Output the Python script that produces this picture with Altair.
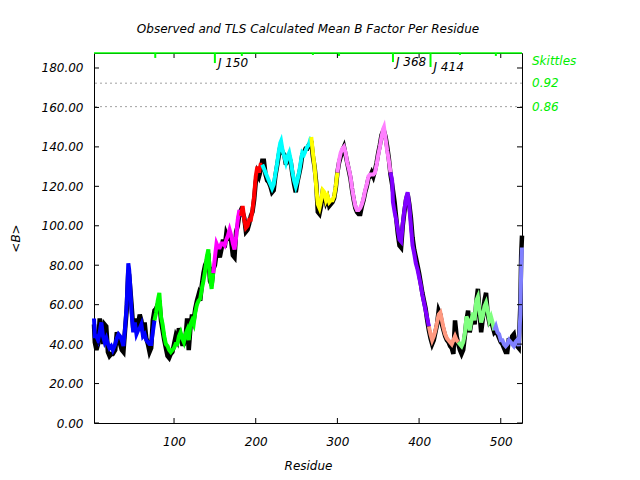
import altair as alt
import pandas as pd

# ---------------- data ----------------
residues = [
    2, 3, 5, 7, 9, 11, 13, 15, 17, 19,
    21, 23, 25, 28, 30, 32, 34, 36, 38, 40,
    42, 44, 45, 46, 48, 50, 52, 54, 56, 58,
    60, 62, 64, 66, 68, 70, 72, 74, 76, 78,
    80, 82, 84, 86, 88, 90, 92, 94, 96, 98,
    100, 102, 104, 106, 108, 110, 112, 114, 116, 118,
    120, 122, 124, 126, 128, 130, 132, 134, 136, 138,
    140, 142, 144, 146, 148, 150, 152, 154, 156, 158,
    160, 162, 164, 166, 168, 170, 172, 174, 176, 178,
    180, 182, 184, 186, 188, 190, 192, 194, 196, 198,
    200, 202, 204, 206, 208, 210, 212, 214, 216, 218,
    220, 222, 224, 226, 228, 230, 231, 233, 235, 237,
    239, 241, 243, 245, 247, 249, 251, 253, 255, 257,
    259, 261, 263, 265, 267, 268, 270, 272, 274, 276,
    278, 280, 282, 284, 286, 288, 290, 292, 294, 296,
    298, 300, 302, 304, 306, 308, 310, 312, 314, 316,
    318, 320, 322, 324, 326, 328, 330, 332, 334, 336,
    338, 340, 342, 344, 346, 348, 350, 352, 354, 356,
    357, 359, 361, 363, 365, 367, 368, 370, 372, 374,
    376, 378, 380, 382, 384, 386, 388, 390, 392, 394,
    396, 398, 400, 402, 404, 406, 408, 410, 412, 414,
    416, 418, 420, 422, 424, 426, 428, 430, 432, 434,
    436, 438, 440, 442, 444, 446, 448, 450, 452, 454,
    456, 458, 460, 462, 464, 466, 468, 470, 472, 474,
    476, 478, 480, 482, 484, 486, 488, 490, 492, 494,
    496, 498, 500, 502, 504, 506, 508, 510, 512, 514,
    516, 518, 520, 522, 524, 525, 526,
]

tls_calc = [
    53, 44, 44, 42, 46, 51, 44, 41, 43, 40,
    38, 39, 37, 40, 43, 45, 44, 42, 39, 48,
    60, 81, 78, 72, 56, 46, 51, 45, 47, 48,
    50, 44, 45, 42, 41, 40, 40, 46, 52, 56,
    62, 66, 54, 50, 44, 40, 39, 37, 36, 37,
    38, 40, 40, 44, 46, 43, 41, 45, 47, 42,
    50, 52, 50, 56, 60, 62, 63, 68, 72, 77,
    84, 88, 74, 68, 76, 84, 91, 89, 89, 91,
    91, 90, 93, 95, 98, 95, 91, 88, 94, 103,
    108, 105, 110, 103, 99, 100, 103, 103, 108, 115,
    125, 130, 127, 131, 131, 129, 127, 125, 123, 121,
    119, 121, 126, 131, 137, 142, 143, 138, 135, 132,
    135, 137, 133, 127, 123, 120, 123, 127, 132, 137,
    136, 138, 140, 141, 144, 145, 137, 130, 120, 111,
    109, 113, 118, 117, 113, 115, 112, 113, 113, 115,
    120, 127, 133, 137, 139, 140, 137, 132, 129, 125,
    119, 114, 110, 108, 108, 109, 111, 114, 118, 121,
    125, 126, 126, 126, 127, 131, 136, 140, 145, 149,
    150, 144, 138, 133, 127, 123, 112, 107, 103, 98,
    93, 92, 101, 108, 114, 117, 110, 100, 90, 86,
    81, 78, 74, 70, 65, 61, 57, 53, 49, 45,
    42, 44, 47, 51, 55, 56, 52, 48, 45, 43,
    42, 41, 40, 42, 44, 42, 41, 40, 39, 41,
    45, 54, 52, 47, 52, 56, 52, 62, 64, 57,
    51, 54, 59, 61, 57, 52, 54, 51, 47, 49,
    46, 45, 42, 42, 40, 39, 40, 42, 41, 40,
    39, 41, 42, 39, 55, 78, 89,
]

observed = [
    50, 41, 37, 40, 53, 47, 40, 50, 49, 36,
    34, 35, 35, 37, 46, 42, 40, 37, 36, 47,
    57, 77, 75, 70, 60, 48, 53, 47, 50, 55,
    52, 46, 51, 43, 40, 36, 38, 52, 57, 58,
    60, 62, 52, 47, 42, 38, 34, 33, 35, 36,
    40, 44, 42, 48, 44, 40, 40, 43, 53, 37,
    48, 55, 52, 58, 62, 65, 62, 70, 76, 80,
    82, 86, 72, 70, 78, 80, 86, 87, 84, 88,
    93, 89, 96, 94, 95, 92, 85, 84, 97, 100,
    106, 108, 107, 104, 97, 98, 101, 105, 107, 113,
    122, 127, 125, 128, 133, 133, 126, 123, 122, 120,
    117, 118, 125, 130, 135, 140, 140, 137, 136, 131,
    134, 135, 132, 126, 121, 117, 122, 126, 130, 136,
    137, 139, 139, 141, 142, 143, 135, 130, 122, 107,
    106, 110, 117, 116, 112, 114, 110, 111, 112, 114,
    119, 127, 132, 135, 138, 140, 136, 132, 128, 124,
    118, 113, 109, 107, 106, 106, 110, 113, 117, 120,
    124, 125, 127, 125, 128, 132, 137, 141, 146, 148,
    148, 145, 140, 134, 126, 121, 118, 112, 104, 96,
    90, 89, 100, 107, 113, 116, 111, 104, 94, 88,
    84, 80, 76, 71, 66, 62, 58, 52, 47, 43,
    40, 42, 46, 50, 57, 55, 50, 47, 44, 42,
    41, 39, 38, 35, 52, 44, 40, 37, 35, 37,
    44, 52, 57, 46, 51, 55, 50, 61, 68, 56,
    46, 53, 62, 66, 55, 51, 52, 49, 46, 47,
    45, 43, 41, 40, 38, 36, 36, 43, 40, 44,
    45, 40, 39, 38, 60, 85, 95,
]

group_starts = [2, 77, 150, 183, 210, 270, 302, 367, 414, 450, 494]
group_colors = ["#0000ff", "#00ff00", "#ff00ff", "#ff0000", "#00ffff", "#ffff00",
                "#ff80ff", "#8000ff", "#ff9980", "#80ff80", "#8080ff"]

skittle_res = [77, 150, 183, 270, 302, 368, 414, 450, 494]
skittle_len = [2.5, 5.1, 1.5, 1.0, 1.5, 4.6, 7.1, 1.0, 1.5]
skittle_labels = ["", "J 150", "", "", "", "J 368", "J 414", "", ""]

right_texts = ["Skittles", "0.92", "0.86"]
right_values = [183.6, 172.3, 160.4]
dotted_values = [172.3, 160.4]

y_ticks = [0, 20, 40, 60, 80, 100, 120, 140, 160, 180]
x_ticks = [100, 200, 300, 400, 500]

X_MIN, X_MAX = 2, 526
Y_MAX = 187.6
W, H = 428, 370
FONT = "DejaVu Sans"

# ---------------- tables ----------------
obs_df = pd.DataFrame({"r": residues, "v": observed})

rows = []
prev_last = None
for gi, start in enumerate(group_starts):
    end = group_starts[gi + 1] if gi + 1 < len(group_starts) else 10 ** 6
    pts = [(r, v) for r, v in zip(residues, tls_calc) if start <= r < end]
    if prev_last is not None:
        pts = [prev_last] + pts
    for r, v in pts:
        rows.append({"r": r, "v": v, "g": f"G{gi:02d}"})
    if pts:
        prev_last = pts[-1]
calc_df = pd.DataFrame(rows)
group_names = [f"G{i:02d}" for i in range(len(group_starts))]

sk_df = pd.DataFrame({
    "r": skittle_res,
    "v": [Y_MAX] * len(skittle_res),
    "v2": [Y_MAX - l for l in skittle_len],
    "label": skittle_labels,
})
right_df = pd.DataFrame({"t": right_texts, "v": right_values})
dot_df = pd.DataFrame({"v": dotted_values})
top_df = pd.DataFrame({"v": [Y_MAX]})
yt_df = pd.DataFrame({"v": y_ticks})
xt_df = pd.DataFrame({"r": x_ticks})

# ---------------- scales / axes ----------------
xs = alt.Scale(domain=[X_MIN, X_MAX], nice=False, zero=False)
ys = alt.Scale(domain=[0, Y_MAX], nice=False, zero=True)

xaxis = alt.Axis(values=x_ticks, format="d", title="Residue",
                 labelFont=FONT, labelFontStyle="italic", labelFontSize=12,
                 labelColor="black", titleFont=FONT, titleFontStyle="italic",
                 titleFontWeight="normal", titleFontSize=12, titleColor="black",
                 ticks=False, tickSize=0, domain=False, grid=False,
                 labelPadding=13, titlePadding=13)
yaxis = alt.Axis(values=y_ticks, format=".2f", title="<B>",
                 labelFont=FONT, labelFontStyle="italic", labelFontSize=12,
                 labelColor="black", titleFont=FONT, titleFontStyle="italic",
                 titleFontWeight="normal", titleFontSize=12, titleColor="black",
                 ticks=False, tickSize=0, domain=False, grid=False,
                 labelPadding=11, titlePadding=19)


def X(f="r"):
    return alt.X(f"{f}:Q", scale=xs, axis=xaxis)


def Y(f="v"):
    return alt.Y(f"{f}:Q", scale=ys, axis=yaxis)


dotted = alt.Chart(dot_df).mark_rule(color="#a0a0a0", strokeDash=[2, 3], strokeWidth=1).encode(y=Y())

obs_line = alt.Chart(obs_df).mark_line(color="black", strokeWidth=4.5, strokeJoin="miter").encode(
    x=X(), y=Y())

calc_line = alt.Chart(calc_df).mark_line(strokeWidth=4, strokeJoin="miter").encode(
    x=X(), y=Y(),
    color=alt.Color("g:N", scale=alt.Scale(domain=group_names, range=group_colors), legend=None),
)

top_line = alt.Chart(top_df).mark_rule(color="#00ff00", strokeWidth=1.5).encode(y=Y())

sk_rules = alt.Chart(sk_df).mark_rule(color="#00ff00", strokeWidth=2).encode(
    x=X(), y=Y(), y2=alt.Y2("v2:Q"))

sk_text = alt.Chart(sk_df).mark_text(align="left", baseline="middle", dx=3, font=FONT,
                                     fontStyle="italic", fontSize=12, color="black").encode(
    x=X(), y=Y("v2"), text="label:N")

right_text = alt.Chart(right_df).mark_text(align="left", baseline="middle", font=FONT,
                                           fontStyle="italic", fontSize=12, color="#00ee00").encode(
    x=alt.value(W + 10), y=Y(), text="t:N")

tick_l = alt.Chart(yt_df).mark_rule(color="black").encode(y=Y(), x=alt.value(0), x2=alt.value(5))
tick_r = alt.Chart(yt_df).mark_rule(color="black").encode(y=Y(), x=alt.value(W - 5), x2=alt.value(W))
tick_b = alt.Chart(xt_df).mark_rule(color="black").encode(x=X(), y=alt.value(H), y2=alt.value(H - 5))
tick_t = alt.Chart(xt_df).mark_rule(color="black").encode(x=X(), y=alt.value(0), y2=alt.value(5))

chart = alt.layer(
    dotted, obs_line, calc_line, tick_l, tick_r, tick_b, tick_t,
    top_line, sk_rules, sk_text, right_text,
).properties(
    width=W, height=H,
    autosize=alt.AutoSizeParams(type="none"),
    padding={"left": 86, "top": 45, "right": 100, "bottom": 49},
    title=alt.TitleParams(
        text="Observed and TLS Calculated Mean B Factor Per Residue",
        font=FONT, fontSize=12, fontStyle="italic", fontWeight="normal",
        color="black", anchor="middle", frame="group", offset=13,
    ),
).configure_view(stroke="black", strokeWidth=1)

chart.save("out.html", embed_options={"renderer": "svg", "actions": False})
